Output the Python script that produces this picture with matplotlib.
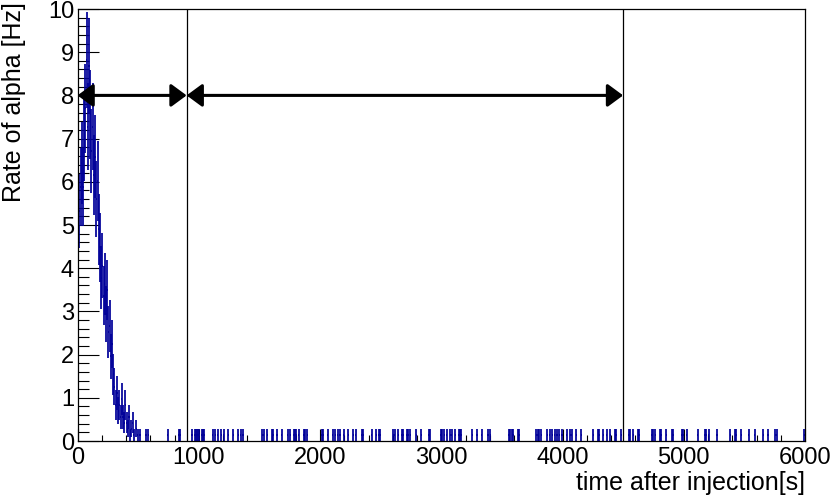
import matplotlib
matplotlib.use('Agg')
import matplotlib.pyplot as plt
from matplotlib.ticker import MultipleLocator
import numpy as np

plt.rcParams['font.family'] = ['Liberation Sans', 'DejaVu Sans']

# histogram: 10 s bins, counts per bin, rate = counts * 0.14 Hz
bin_width = 10
n_bins = 600
rate_per_count = 0.14

# counts for bins starting at 0, 10, ..., 590 s
decay_counts = [15, 38, 42, 46, 42, 50, 55, 63, 52, 62,
                54, 48, 52, 44, 47, 40, 43, 35, 32, 27,
                29, 24, 26, 21, 25, 18, 19, 14, 16, 11,
                9, 6, 8, 5, 6, 4, 7, 4, 3, 6,
                3, 2, 4, 1, 2, 3, 1, 0, 2, 1,
                0, 1, 0, 0, 0, 0, 1, 0, 1, 0]

# bins (start time, s) with a single count after the decay
single_count_times = [740, 830, 840, 940, 960, 970, 980, 990, 1000, 1020, 1030, 1040,
                      1110, 1130, 1150, 1180, 1200, 1240, 1280, 1320, 1340, 1360,
                      1520, 1530, 1560, 1600, 1610, 1640, 1680, 1730, 1750, 1780,
                      1790, 1800, 1820, 1860, 1870, 1890, 2010, 2020, 2060, 2100,
                      2120, 2140, 2160, 2190, 2230, 2270, 2290, 2340, 2350, 2420,
                      2460, 2480, 2490, 2600, 2610, 2640, 2670, 2680, 2710, 2720,
                      2740, 2790, 2830, 2890, 2900, 2990, 3000, 3020, 3040, 3070,
                      3080, 3110, 3140, 3150, 3160, 3250, 3290, 3330, 3380, 3400,
                      3550, 3560, 3580, 3590, 3630, 3640, 3780, 3790, 3800, 3820,
                      3870, 3890, 3910, 3930, 3950, 3970, 3990, 4030, 4060, 4070,
                      4110, 4150, 4250, 4290, 4300, 4330, 4360, 4390, 4430, 4440,
                      4480, 4540, 4550, 4580, 4620, 4630, 4730, 4740, 4760, 4800,
                      4810, 4850, 4900, 4910, 4980, 4990, 5020, 5110, 5170, 5180,
                      5200, 5270, 5380, 5420, 5430, 5470, 5530, 5580, 5650, 5690,
                      5750, 5760, 5990]

window_edges = [0, 900, 4500]
arrow_y = 8

counts = np.zeros(n_bins)
counts[:len(decay_counts)] = decay_counts
for t in single_count_times:
    i = t // bin_width
    counts[i] = max(counts[i], 1)

centers = np.arange(n_bins) * bin_width + bin_width / 2
mask = counts > 0
rate = counts * rate_per_count
err = np.sqrt(counts) * rate_per_count

fig = plt.figure(figsize=(8.31, 4.96), dpi=100)
ax = fig.add_axes([77.5 / 831, 55 / 496, 727.5 / 831, 432 / 496])

ax.errorbar(centers[mask], rate[mask], yerr=err[mask], xerr=bin_width / 2,
            fmt='none', ecolor='#000099', elinewidth=1.25)

ax.set_xlim(0, 6000)
ax.set_ylim(0, 10)

# time windows
for x in window_edges[1:]:
    ax.axvline(x, color='k', lw=0.9)
for a, b in zip(window_edges[:-1], window_edges[1:]):
    ax.annotate('', xy=(b, arrow_y), xytext=(a, arrow_y),
                arrowprops=dict(arrowstyle='<|-|>,head_length=0.95,head_width=0.7',
                                mutation_scale=10, lw=2.2, color='k',
                                shrinkA=0, shrinkB=0))

ax.xaxis.set_major_locator(MultipleLocator(1000))
ax.xaxis.set_minor_locator(MultipleLocator(200))
ax.yaxis.set_major_locator(MultipleLocator(1))
ax.yaxis.set_minor_locator(MultipleLocator(0.2))
ax.tick_params(which='both', direction='in', top=False, right=False, width=0.8)
ax.tick_params(axis='y', which='major', length=15, pad=2.5, labelsize=17)
ax.tick_params(axis='y', which='minor', length=8)
ax.tick_params(axis='x', which='major', length=8.6, pad=4.5, labelsize=17)
ax.tick_params(axis='x', which='minor', length=4.3)
for s in ax.spines.values():
    s.set_linewidth(0.9)

fig.text(14 / 831, 1 - 2 / 496, 'Rate of alpha [Hz]', rotation=90,
         ha='center', va='top', fontsize=18)
fig.text(805 / 831, 1 - 490 / 496, 'time after injection[s]',
         ha='right', va='baseline', fontsize=18)

fig.savefig('out.png', dpi=100)
